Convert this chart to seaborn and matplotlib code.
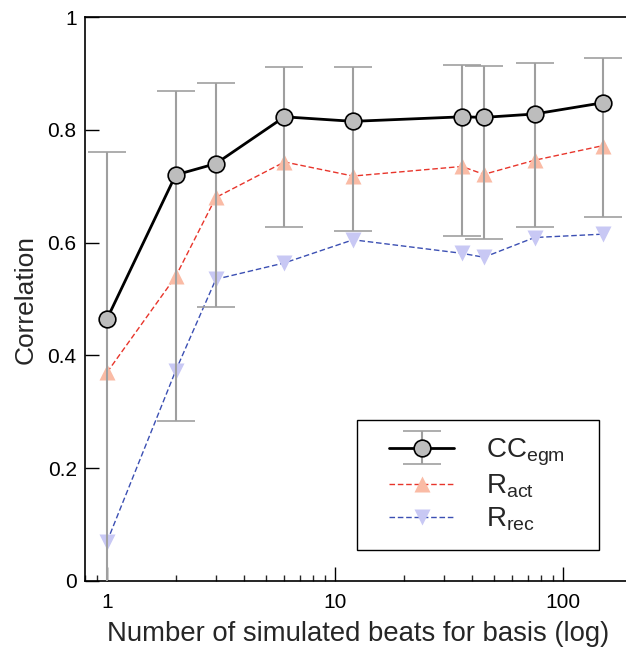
import numpy as np
import pandas as pd
import seaborn as sns
import matplotlib.pyplot as plt
from matplotlib.ticker import FuncFormatter
from matplotlib.legend_handler import HandlerErrorbar, HandlerLine2D

# -- data ----
n_beats = [1, 2, 3, 6, 12, 36, 45, 75, 150]
cc_egm = [0.465, 0.720, 0.740, 0.823, 0.815, 0.823, 0.822, 0.828, 0.848]
cc_upper = [0.760, 0.868, 0.883, 0.911, 0.911, 0.915, 0.914, 0.918, 0.927]
cc_lower = [-0.05, 0.284, 0.486, 0.628, 0.621, 0.612, 0.607, 0.627, 0.646]
r_act = [0.370, 0.540, 0.680, 0.743, 0.718, 0.735, 0.721, 0.746, 0.772]
r_rec = [0.070, 0.373, 0.535, 0.564, 0.605, 0.581, 0.574, 0.609, 0.615]

labels = [r'$\mathregular{CC_{egm}}$   ', r'$\mathregular{R_{act}}$', r'$\mathregular{R_{rec}}$']

df = pd.DataFrame({'n': n_beats, 'cc': cc_egm, 'lo': cc_lower, 'hi': cc_upper,
                   'act': r_act, 'rec': r_rec})

sns.set_style('ticks')
plt.rcParams['font.family'] = ['Liberation Sans', 'DejaVu Sans']

fig = plt.figure(figsize=(6.26, 6.47), dpi=100)
ax = fig.add_axes([85 / 626, 1 - 581 / 647, (631.6 - 85) / 626, (581 - 17) / 647])

err = [df.cc - df.lo, df.hi - df.cc]
eb = ax.errorbar(df.n, df.cc, yerr=err, fmt='o-', color='black', lw=2, ms=12,
                 mfc='#bdbdbd', mec='black', mew=1.2, ecolor='#9f9f9f',
                 elinewidth=1.5, capsize=14, capthick=1.5, zorder=4)

sns.lineplot(data=df, x='n', y='act', ax=ax, color='#e8352b', lw=1, marker='^',
             markersize=11, markerfacecolor='#fabba5', markeredgecolor='none',
             dashes=False, linestyle=(0, (4, 2)), zorder=3)
sns.lineplot(data=df, x='n', y='rec', ax=ax, color='#3b4fb3', lw=1, marker='v',
             markersize=11, markerfacecolor='#c8c8f4', markeredgecolor='none',
             dashes=False, linestyle=(0, (4, 2)), zorder=3)

ax.set_xscale('log')
ax.set_xlim(0.8, 200)
ax.set_ylim(0, 1)
ax.set_yticks([0, 0.2, 0.4, 0.6, 0.8, 1])
ax.yaxis.set_major_formatter(FuncFormatter(lambda v, p: f'{v:g}'))
ax.xaxis.set_major_formatter(FuncFormatter(lambda v, p: f'{v:g}'))
ax.tick_params(axis='both', which='major', direction='in', length=10, width=1,
               labelsize=15, colors='black')
ax.tick_params(axis='x', which='major', pad=9)
ax.tick_params(axis='y', which='major', pad=6)
ax.tick_params(axis='x', which='minor', direction='in', length=4.5, width=1)
ax.tick_params(axis='y', which='minor', left=False)

for s in ['left', 'bottom', 'top']:
    ax.spines[s].set_color('black')
    ax.spines[s].set_linewidth(1.2)
ax.spines['right'].set_visible(False)

ax.set_xlabel('Number of simulated beats for basis (log)', fontsize=19.8, labelpad=6)
ax.set_ylabel('Correlation', fontsize=19, labelpad=7)

handles = [eb, ax.lines[-2], ax.lines[-1]]
hmap = {eb: HandlerErrorbar(xpad=0.55, xerr_size=0.6, yerr_size=0.6),
        ax.lines[-2]: HandlerLine2D(xpad=0.55), ax.lines[-1]: HandlerLine2D(xpad=0.55)}
leg = ax.legend(handles, labels, loc='upper left', bbox_to_anchor=(357 / 626, 1 - 420 / 647),
                bbox_transform=fig.transFigure, fontsize=20, frameon=True, fancybox=False,
                handlelength=2.9, handletextpad=1.15, borderpad=0.6, borderaxespad=0,
                labelspacing=0.18, edgecolor='black', framealpha=1, handler_map=hmap)
leg.get_frame().set_linewidth(1)

fig.savefig('out.png', dpi=100)
